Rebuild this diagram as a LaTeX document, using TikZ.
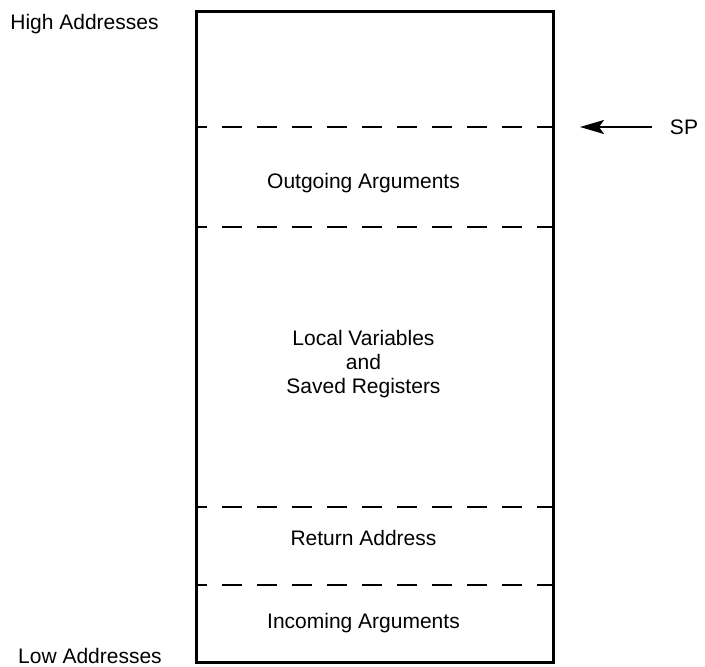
\documentclass[tikz,border=0pt]{standalone}
\usepackage{fontspec}
\setmainfont{Liberation Sans}
\usetikzlibrary{arrows.meta}
\begin{document}
\begin{tikzpicture}[x=1pt,y=-1pt,
  label/.style={font=\fontsize{21}{24}\selectfont, inner sep=0pt, anchor=base, align=center},
  frame/.style={draw, line width=3pt, minimum width=357pt, minimum height=651pt, inner sep=0pt},
  divider/.style={line width=2.5pt, dash pattern=on 20pt off 15pt, dash phase=9pt},
  pointer/.style={line width=1.8pt, -{Stealth[length=24pt, width=14pt, inset=5pt]}}]
  \useasboundingbox (0,0) rectangle (705,667);
  % stack frame outline
  \node[frame] (stack) at (374.5,336.5) {};
  % region boundaries
  \foreach \name/\yy in {d1/127, d2/227, d3/507, d4/585} {
    \coordinate (\name L) at (196,\yy);
    \coordinate (\name R) at (553,\yy);
    \draw[divider] (\name L) -- (\name R);
  }
  % region labels
  \node[label] (out) at (363.5,188) {Outgoing Arguments};
  \node[label] (loc) at (363.5,393) {Local Variables\\and\\Saved Registers};
  \node[label] (ret) at (363.5,545) {Return Address};
  \node[label] (inc) at (363.5,628) {Incoming Arguments};
  % address direction labels
  \node[label] (high) at (84.5,29) {High Addresses};
  \node[label] (low) at (90,663) {Low Addresses};
  % stack pointer
  \node[label] (sp) at (684,134.5) {SP};
  \coordinate (spstart) at (652,127);
  \coordinate (sptip) at (580,127);
  \draw[pointer] (spstart) -- (sptip);
\end{tikzpicture}
\end{document}
